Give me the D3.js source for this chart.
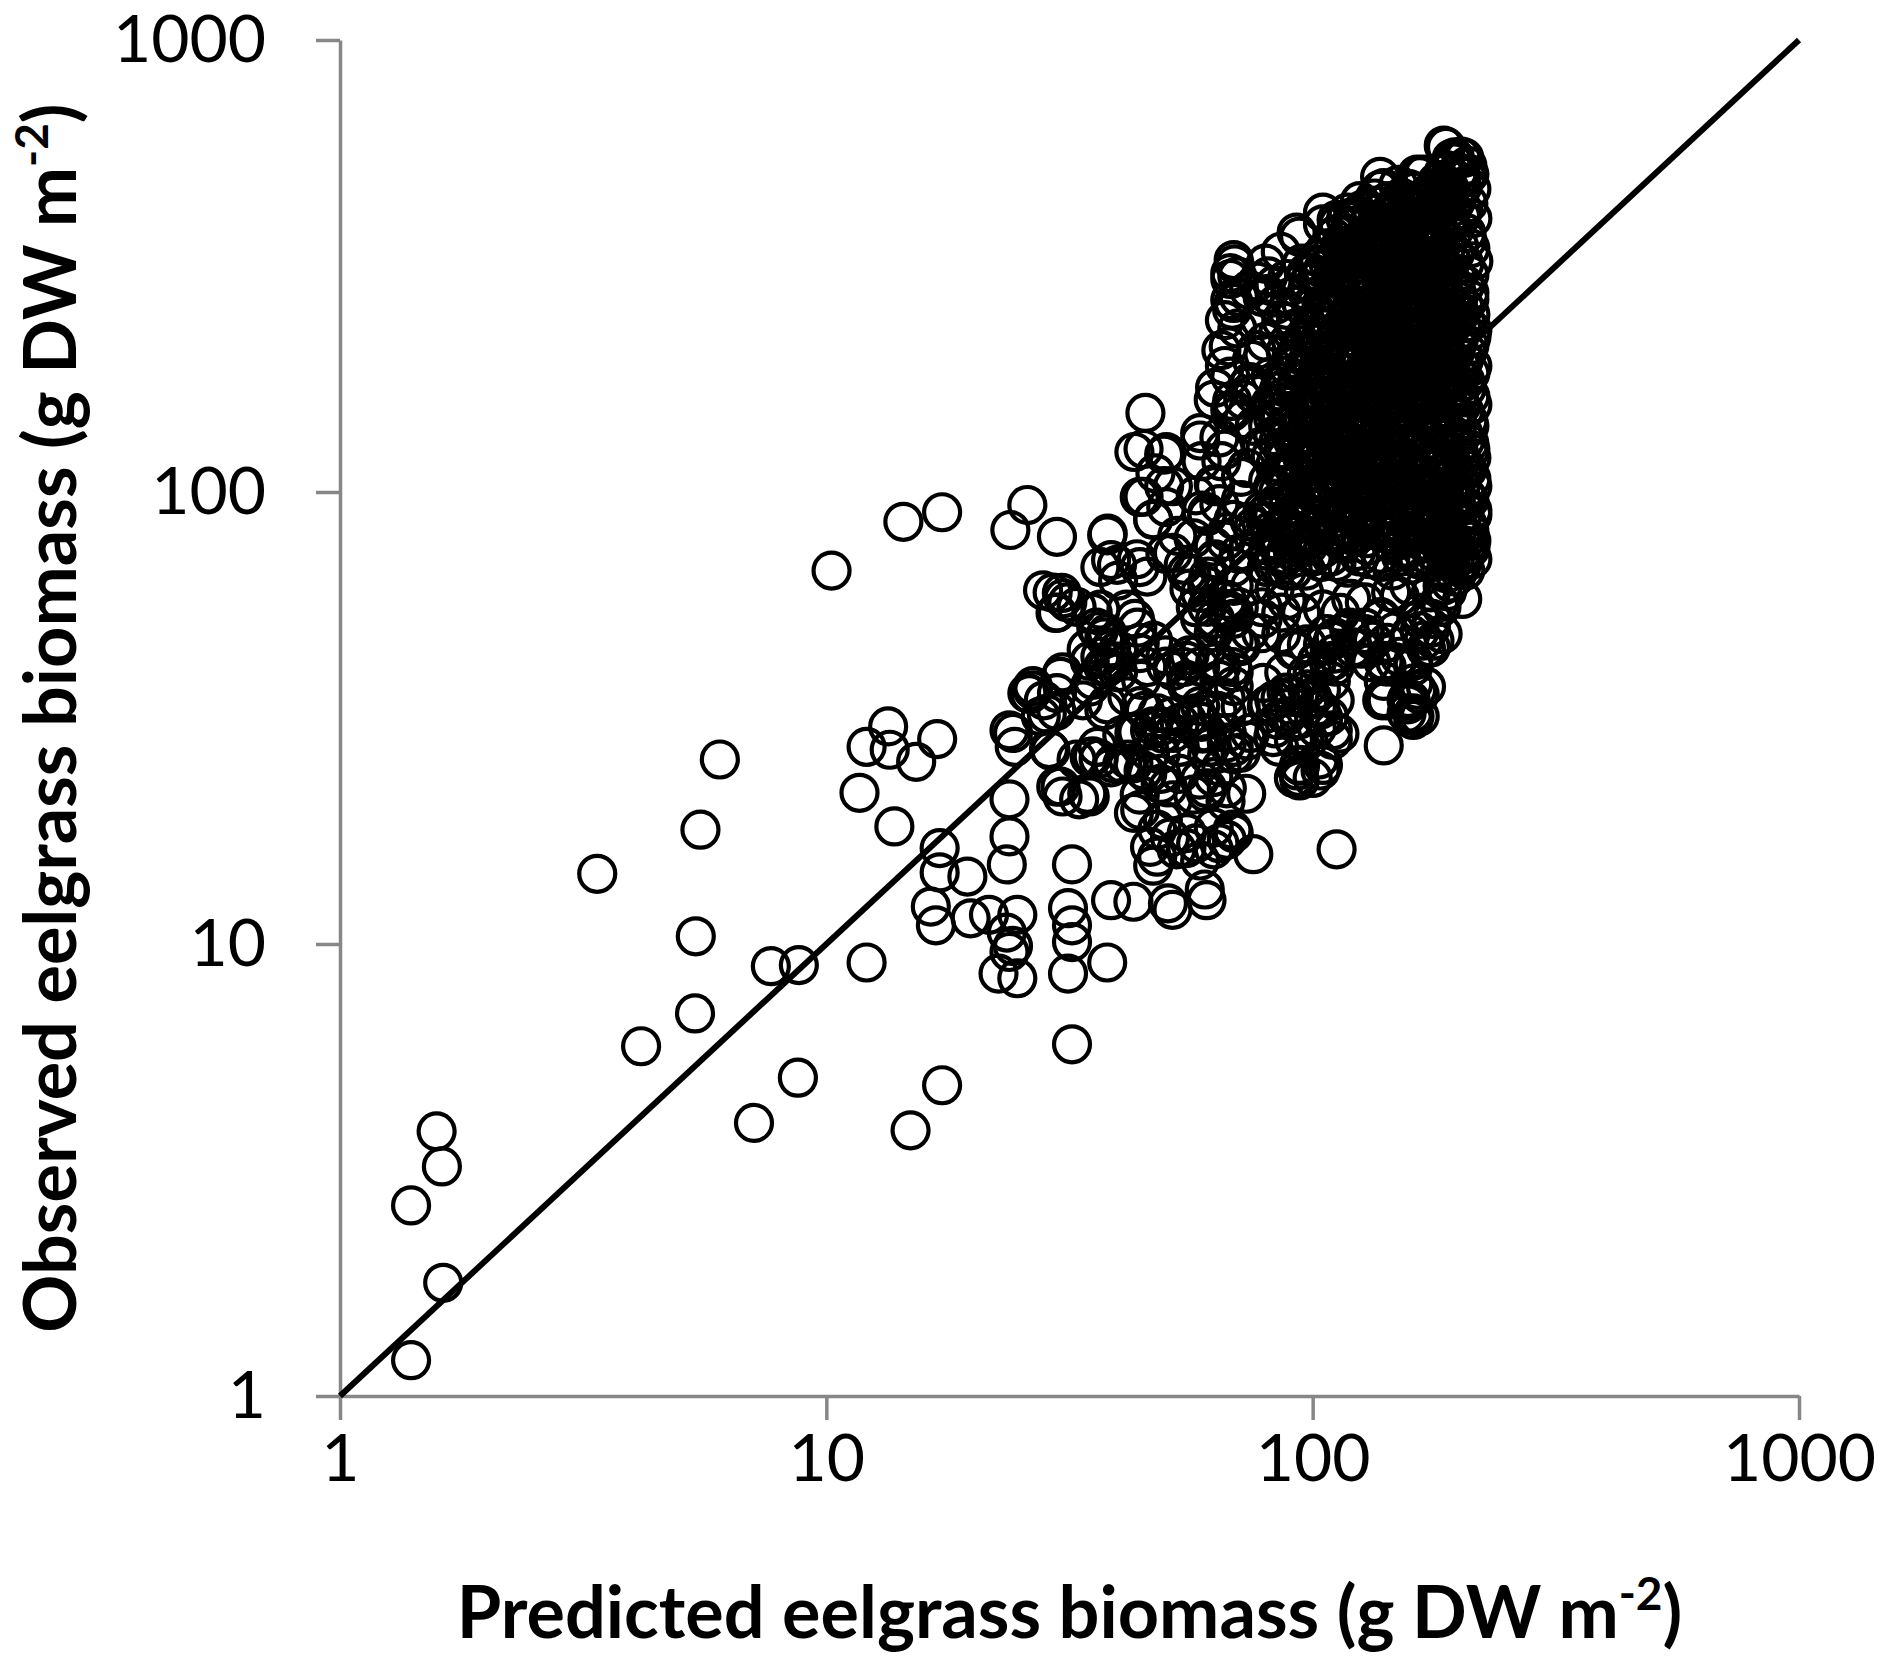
<!DOCTYPE html>
<html>
<head>
<meta charset="utf-8">
<script src="https://cdn.jsdelivr.net/npm/d3@7"></script>
<style>
    html, body { margin: 0; padding: 0; background: #fff; }
    #chart { width: 1903px; height: 1656px; }
</style>
</head>
<body>
<div id="chart"></div>
<script>
//Ejes (log) y textos
const xTicks = [1, 10, 100, 1000];
const yTicks = [1, 10, 100, 1000];
const xTitle = 'Predicted eelgrass biomass (g DW m';
const yTitle = 'Observed eelgrass biomass (g DW m';
const unitSup = '-2';
const oneToOne = [[1, 1], [1000, 1000]];

//Zona baja (predicho < 30)
const lowPts = [
    [1.40,1.20],[1.63,1.78],[1.40,2.64],[1.62,3.22],[1.58,3.85],
    [3.38,14.3],[4.16,5.94],[5.51,17.9],[6.04,25.6],[5.39,10.4],[5.37,7.02],
    [7.69,8.93],[8.78,8.98],[8.74,5.06],[7.10,4.02],[10.25,67],[12.1,9.1],
    [14.9,3.87],[17.3,4.87],[14.4,85.9],[17.3,90.2],
    [11.7,21.6],[12.1,27.3],[13.4,30.3],[13.5,26.9],[15.3,25.3],[16.9,28.4],[13.8,18.2],
    [17.1,16.3],[17.1,14.4],[19.5,14.1],[16.4,12.1],[16.8,11.0],[19.8,11.4],[21.6,11.6],[24.7,11.6],
    [23.5,10.6],[24.2,9.9],[23.8,9.6],[24.7,8.4],[22.6,8.6],[23.5,15.0],[23.8,17.3],[23.8,20.9],
    [23.8,29.7],[24.4,27.3],[23.9,82.4],[25.9,93.6],[29.8,79.6],[30.7,58.2],[29.6,54.0],
    [26.2,35.7],[27.6,31.9],[29.7,32.8],[28.7,27.0],[28.9,26.8],[28.0,34.6],[25.9,35.9],[29.8,35.9],
    [26.6,36.4],[30.3,39.0],[24.2,29.3],[26.6,37.2],[28.4,32.3],[30.6,39.9],
    [29.2,59.9],[31.3,57.0],[27.9,60.6],[32.7,55.7]
];

//Zona media (predicho 30-90)
const midPts = [
    [30.6,21.2],[33.1,20.9],[34.8,21.2],[29.7,22.3],[34.8,25.9],[36.1,27.3],[38.9,25.1],[42.8,25.1],
    [44.9,24.2],[46.3,26.5],[43.6,29.4],[48.7,30.3],[44.2,33.6],[47.9,32.4],[41.6,35.3],[37.3,32.9],
    [33.7,34.6],[34.8,37.1],
    [32.0,15.0],[31.4,12.0],[32.0,11.0],[32.0,10.1],[31.4,8.6],[37.8,9.1],[32.0,6.0],
    [38.5,12.5],[42.8,12.4],[50.4,12.3],[51.5,11.9],[60.5,12.5],[60.0,13.2],
    [47.9,17.9],[46.3,16.4],[47.9,15.6],[47.0,14.9],[44.2,19.8],[49.2,18.8],[42.9,19.5],[50.9,17.2],
    [55.0,16.3],[57.6,16.7],[58.7,15.3],[52.5,16.2],[55.1,17.6],[62.6,18.1],[66.6,17.0],[68.4,17.9],
    [75.5,15.8],[64.3,16.7],[62.6,16.2],[68.8,17.6],[112,16.2],
    [73.0,21.5],[60.3,21.6],[58.6,23.1],[62.5,23.4],[50.4,22.2],[48.8,23.8],[40.6,25.0],[35.3,26.0],
    [66.2,20.7],[44.1,21.4],[48.7,22.6],[51.6,20.8],[56.8,21.4],[60.7,22.1],[66.6,22.1],[53.3,23.8],
    [60.7,26.3],[68.8,26.3],[64.9,24.6],
    [46.3,29.7],[49.2,29.2],[53.3,30.8],[57.6,32.4],[59.4,29.2],[61.6,27.3],[66.6,27.9],[71.1,26.5],
    [73.4,28.2],[66.6,32.4],[71.1,33.5],[43.0,29.3],[47.0,30.3],[51.6,29.3],[55.1,31.3],[58.7,29.3],
    [74.4,29.3],[68.8,27.3],[60.7,29.3],
    [32.7,25.6],[30.3,22.3],[34.4,21.5],[38.5,24.6],[41.7,25.6],[45.7,23.8],[48.7,26.3],
    [36.3,25.7],[53.3,27.3],[51.2,31.9],[45.2,32.8],[40.6,29.0],[37.8,33.9],
    [39.1,42.2],[37.8,41.0],[37.3,47.7],[38.5,44.9],[36.3,49.2],[35.3,54.0],[34.3,44.9],[35.3,38.4],
    [43.1,52.4],[45.7,65.0],[43.5,71.0],[37.8,80.2],[39.6,69.0],[44.9,124.5],[45.3,149.6],[49.5,103],
    [49.5,121],[47.5,110],[44.9,97.6],[47.0,87.0],[52.7,80.0],[43.0,122.6],[50.0,122.6],[37.9,80.9],
    [58.7,130],
    [44.1,97.5],[51.6,103],[47.0,86.8],[50.0,92.6],[38.5,70.7],[44.1,68.2],[39.8,63.7],[36.6,68.2],
    [30.5,59.8],[29.8,54.1],[36.6,54.9],[36.6,43.2],[37.8,48.7],[39.8,44.7],[44.1,46.4],
    [44.4,38.4],[45.7,41.0],[49.8,43.5],[54.3,41.0],[55.0,38.4],[55.8,43.5],[63.0,42.0],[64.3,38.4],
    [66.2,35.0],[68.3,41.0],[70.5,46.0],[74.3,49.2],[78.9,52.4],[63.7,32.8],[59.1,31.0],
    [51.6,73.3],[55.1,66.3],[62.6,75.7],[68.8,68.2],[60.7,62.0],[66.6,57.7],[74.4,62.0],[80.5,68.2],
    [83.0,77.9],[68.8,54.1],[63.6,50.5],[71.2,45.6],[78.4,48.7],[86.2,54.1],[58.7,41.1],[68.8,39.9],
    [55.1,38.2],[50.0,41.1],
    [62.6,160],[68.8,152],[75.5,165],[83.0,145],[64.9,117],[71.2,108],[78.4,126],[88.5,108],
    [60.7,90],[68.8,86.8],[80.5,90],[88.5,84],[91.1,73.6],[75.5,79.6],
    [35.9,50.1],[38.5,45.3],[34.8,42.3],[37.1,41.1],[39.8,39.9],[44.1,44.0],[47.0,46.9],[41.4,54.9],
    [43.6,50.1],
    [51.6,40.2],[55.1,37.4],[55.1,42.3],[63.6,42.3],[68.8,47.2],[62.6,48.9],[58.7,52.4],[66.6,55.1],
    [68.8,52.4],[58.7,33.6],[66.6,29.3],
    [64.9,41.1],[58.7,44.0],[66.6,54.1],[60.7,55.7],[68.8,37.2],[56.3,37.2],
    [58.7,135],[67.7,152],[65.9,124],[62.6,104],[57.5,98.3],[73.2,113],[71.2,96],[60.7,88.5],
    [66.6,81.5],[56.9,79.0],[75.5,83.7],[62.6,70.2],[56.3,65.8],[73.2,73.6],[68.8,62.0],[58.7,59.8],
    [55.8,61.1],[61,65],[63,71],[66.2,78],[70.5,73],[74.3,86],[78.9,91],[81.1,76],[57.5,55.6],
    [63,52.4],[70.5,55.6],[64.3,94],[59.1,91],[63,103],[59.1,117],[64.3,132],[68.3,159],[72,145],
    [49.8,73],[54.3,69],[88.4,67],[83.5,61],[78.9,55.6],[88.4,57.6],[94.7,54],[91,67]
];

//Zona baja derecha (predicho 80-200, observado < 70)
const rightLowPts = [
    [81.1,33.9],[85.9,35],[83.5,30],[88.4,31.9],[91,31],[93.8,24.9],[93.8,23.4],[105,24.9],[102,30],
    [108,31.9],[100,35],[97.3,39.6],[102,42],[105,46],[111,47.7],[108,42],[97.3,46],[88.4,36],
    [119,49.2],[114,54],[128,57],[138,52.4],[140,42],[148,42],[140,35],[140,27.5],[157,33.9],
    [162,31.9],[157,35],[166,54],[166,49.2],[176,52.4],[171,45],[182,57],[192,71],[192,63],
    [148,49.2],[132,42],[126,45],[166,31.9],
    [94.0,23.0],[93.0,24.2],[103.8,24.2],[85.3,27.3],[83.0,28.7],[110,29.7],[113.5,29.2],[105.1,31.7],
    [89.9,35.3],[97.5,36.6],[103.8,33.0],[94.0,31.4],[139,34.6],[156,34.6],[161,31.3],[166,35.7],
    [156,32.4],
    [159,34.6],[161,32.4],[142,34.6],[171,37.1],[164,36.5],[140,38.2],[140,42.3],[151,43.2],
    [161,41.1],[169,46.9],[159,48.5],[175,50.1],[185,48.5],[175,45.3],[142,46.4],
    [119,50.1],[128,50.1],[133,46.9],[121,45.3],[111,43.9],[110,46.9],[102,42.3],[111,41.1],
    [109,38.2],[104,36.5],[111,34.6],[102,33.5],[91.5,35.2],
    [87.4,39.9],[91.5,44.7],[83.4,34.6],[91.5,31.3],[85.0,31.3],[91.5,28.3],[98.0,28.3],[103,25.6],
    [94.2,24.8],[91.5,23.3],[100,23.3],[110,28.3],
    [161,37.7],[142,41.1],[161,42.3],[178,46.9],[166,52.4],[184,55.7],[189,60.3],[151,58.7],
    [138,52.9],[128,48.5],
    [107,48.5],[110,42.3],[100,39.9],[98,34.6],[92.7,44.7],[86.2,48.5],[79.2,37.8],[80.5,33.6],
    [207,78.5],[210,96],[204,113],[210,128],[195,74.4],[202,68.3],[189,66],[185,62],[197,65],
    [203,58],[175,60],[158,62],[145,60],[120,58],[105,55],[96,60]
];

//Nucleo denso (predicho 80-215, observado 68-290)
const corePts = [
    [83,69],[97,67],[104,70],[118,68],[131,71],[146,67],[159,69],[171,70],[183,68],[196,71],[206,67],
    [81,74],[88,72],[94,75],[101,73],[109,72],[123,74],[138,73],[152,75],[164,72],[176,74],[189,73],[201,72],[211,75],
    [84,78],[90,80],[99,79],[107,81],[114,78],[121,80],[129,79],[142,81],[149,78],[161,80],[170,78],[181,80],[193,79],[204,81],[212,78],
    [80,86],[86,84],[93,86],[102,85],[110,87],[117,84],[126,86],[134,85],[144,84],[153,87],[165,85],[174,86],[186,84],[198,86],[208,85],
    [82,92],[89,93],[96,91],[104,93],[113,92],[120,94],[130,91],[139,93],[148,92],[158,94],[168,91],[179,93],[191,92],[203,94],[213,91],
    [85,100],[92,98],[99,100],[107,99],[115,101],[124,98],[133,100],[142,99],[152,101],[162,98],[173,100],[184,99],[196,101],[207,98],
    [81,106],[88,108],[95,107],[103,106],[110,108],[119,107],[127,106],[137,108],[146,107],[156,106],[166,108],[177,107],[189,106],[200,108],[212,107],
    [84,116],[91,114],[98,116],[106,115],[114,114],[122,116],[131,115],[140,114],[150,116],[160,115],[171,114],[182,116],[194,115],[206,114],
    [80,125],[87,123],[94,124],[101,126],[109,123],[117,125],[126,124],[135,126],[144,123],[154,125],[164,124],[175,126],[187,123],[199,125],[211,124],
    [83,133],[90,135],[97,134],[105,133],[113,135],[121,134],[129,133],[139,135],[148,134],[158,133],[169,135],[180,134],[192,133],[204,135],
    [86,146],[93,144],[100,145],[108,146],[116,144],[124,145],[133,146],[142,144],[152,145],[163,146],[173,144],[185,145],[197,146],[209,144],
    [82,157],[89,155],[96,156],[104,157],[111,155],[119,156],[128,157],[137,155],[146,156],[156,157],[167,155],[178,156],[190,157],[202,155],[213,156],
    [85,167],[92,169],[99,168],[107,167],[115,169],[123,168],[132,167],[141,169],[151,168],[161,167],[172,169],[183,168],[195,167],[207,169],
    [88,181],[95,183],[102,182],[110,181],[118,183],[126,182],[135,181],[145,183],[155,182],[165,181],[176,183],[188,182],[200,181],[211,183],
    [91,197],[98,195],[106,196],[114,197],[122,195],[131,196],[140,197],[149,195],[159,196],[170,197],[181,195],[193,196],[205,197],
    [95,211],[102,213],[109,212],[117,211],[126,213],[135,212],[144,211],[154,213],[164,212],[175,211],[186,213],[198,212],[210,211],
    [98,228],[106,230],[113,229],[121,228],[130,230],[139,229],[148,228],[158,230],[169,229],[180,228],[192,230],[203,229],[213,228],
    [103,246],[111,248],[119,247],[128,246],[137,248],[147,247],[157,246],[167,248],[178,247],[190,246],[201,248],[211,247],
    [108,265],[117,267],[126,266],[135,265],[144,267],[155,266],[166,265],[177,267],[188,266],[199,265],[210,267],
    [113,286],[124,288],[133,287],[145,286],[156,288],[170,287],[183,286],[195,288],[206,287]
];

//Nucleo denso, puntos intermedios
const corePts2 = [
    [87,71],[100,72],[112,70],[125,72],[138,70],[152,72],[165,71],[177,70],[190,72],[202,70],[213,71],
    [85,76],[92,77],[98,76],[105,75],[116,77],[130,76],[145,77],[158,75],[170,77],[183,76],[195,77],[207,75],
    [82,82],[87,83],[95,81],[103,83],[111,82],[118,83],[125,81],[136,82],[146,83],[155,81],[166,83],[176,82],[187,81],[199,83],[210,82],
    [83,89],[90,88],[97,89],[106,88],[113,90],[122,88],[130,89],[139,88],[149,90],[159,88],[170,89],[181,88],[192,90],[203,88],[213,89],
    [85,95],[92,96],[100,95],[108,96],[116,95],[125,97],[134,95],[143,96],[153,95],[163,97],[173,95],[185,96],[197,95],[208,97],
    [83,103],[89,104],[96,103],[103,102],[111,104],[120,103],[129,102],[138,104],[147,103],[157,102],[168,104],[179,103],[191,102],[202,104],[213,103],
    [86,111],[92,112],[100,110],[107,111],[115,112],[124,110],[133,111],[142,112],[152,110],[162,111],[173,112],[184,110],[196,111],[208,112],
    [82,120],[88,119],[95,120],[102,118],[110,120],[118,119],[127,118],[136,120],[145,119],[155,118],[166,120],[177,119],[188,118],[201,120],[212,119],
    [85,129],[91,130],[98,128],[106,129],[114,130],[122,128],[131,129],[141,130],[150,128],[160,129],[171,130],[182,128],[194,129],[206,130],
    [81,140],[88,139],[94,140],[101,138],[109,139],[117,140],[125,138],[134,139],[144,140],[153,138],[164,139],[175,140],[186,138],[198,139],[210,140],
    [84,150],[90,151],[97,150],[104,149],[112,151],[120,150],[129,149],[138,151],[148,150],[158,149],[169,151],[181,150],[193,149],[205,151],
    [87,162],[94,163],[101,161],[108,162],[116,163],[125,161],[134,162],[144,163],[154,161],[164,162],[175,163],[187,161],[199,162],[211,163],
    [86,175],[93,176],[100,174],[107,175],[114,176],[122,174],[131,175],[140,176],[150,174],[160,175],[171,176],[182,174],[194,175],[206,176],
    [89,189],[96,190],[104,188],[111,189],[119,190],[128,188],[137,189],[146,190],[156,188],[167,189],[178,190],[190,188],[202,189],[213,190],
    [93,204],[100,205],[107,203],[115,204],[123,205],[132,203],[141,204],[151,205],[161,203],[172,204],[184,205],[196,203],[208,204],
    [96,220],[104,221],[111,219],[119,220],[127,221],[136,219],[145,220],[155,221],[165,219],[176,220],[188,221],[200,219],[212,220],
    [101,238],[108,239],[116,237],[124,238],[133,239],[142,237],[152,238],[162,239],[173,237],[185,238],[196,239],[207,237],
    [105,256],[113,257],[121,255],[130,256],[140,257],[150,255],[161,256],[172,257],[183,255],[194,256],[205,257],
    [111,276],[120,277],[129,275],[139,276],[150,277],[161,275],[173,276],[186,277],[198,275],[210,276]
];

//Columna derecha (predicho ~170-215, observado alto)
const columnPts = [
    [186,301],[198,298],[210,303],[181,322],[193,325],[205,320],[214,324],
    [188,347],[200,350],[211,346],[183,375],[195,378],[207,374],
    [190,404],[202,407],[213,403],[185,436],[197,439],[209,435],
    [191,470],[203,473],[212,468],[187,507],[199,510],[210,505],[193,546],[205,549],
    [184,312],[196,336],[208,361],[192,390],[204,420],[187,452],[199,488],[208,527],[183,490],[178,470],
    [170,300],[174,330],[168,360],[178,350],[176,410],[171,440]
];

//Parte alta (observado > 150, menos densa)
const upperPts = [
    [188,580],[202,552],[195,536],[169,504],[186,509],[207,498],[189,473],[137.6,498],[137.6,466],
    [105,415],[112,400],[121,406],[128,421],[92.7,375],[142,437],[149,380],[137.6,385],[128,368],
    [68.8,326],[67.7,305],[68.8,262],[77,292],[80.5,274],[88.5,296],[97.2,306],[105,311],[118,326],
    [125,339],[137.6,305],[64.9,206],[67.7,180],[73.2,171],[79.2,202],[86.2,240],[89.9,270],
    [100.3,257],[111,275],[121,257],[128,240],[146,257],[161,275],[157,249],[142,225],
    [67.2,210],[69.1,319],[70.5,270],[68.3,253],[74.3,175],[76.6,206],[78.9,270],[83.5,287],
    [88.4,253],[81,300],[93.8,367],[105,391],[117,400],[132,400],[144,405],[166,500],[186,584],
    [196,550],[180,485],[189,515],[202,500],[196,444],[192,400],[102,296],[97.3,278],[124,296],
    [140,355],[153,345],[166,325],[148,306],[132,262],[157,270],[164,504],[67.7,296],[67.7,266],
    [110,300],[118,310],[126,296],[134,318],[141,300],[150,312],[158,296],[166,320],[174,305],
    [120,330],[130,345],[140,332],[152,350],[162,338],[172,355],[145,372],[158,365],[170,380],
    [160,400],[175,420],[168,445],[176,395],[115,350],[103,330],[95,320],[150,420],[162,462],
    [66,190],[70,230],[72,160],[75,196],[78,240],[80,215],[82,180],[85,225],[88,205],[92,230],
    [95,260],[84,260],[90,285],[98,290],[74,280],[70,300],[80,320],[86,340],[66,240],[63,170],
    [68,150],[76,140],[82,155],[88,170],[92,190],
    [108,318],[116,336],[124,356],[132,378],[146,392],[154,412],[112,372],[122,388],[135,430],
    [128,318],[137,346],[146,330],[156,318],[165,352],[172,392],[180,430],[178,310],[100,305],[107,345]
];

//Parte alta densa (predicho 100-180, observado 300-480)
const upperDensePts = [
    [104,300],[112,306],[120,302],[129,308],[138,298],[147,305],[156,300],[165,308],[175,298],
    [102,318],[110,325],[118,320],[127,328],[136,322],[145,326],[154,320],[163,330],[173,322],
    [106,342],[114,350],[123,345],[132,352],[141,340],[150,348],[159,342],[168,352],[178,345],
    [110,366],[118,372],[127,364],[136,370],[146,364],[155,372],[164,366],[174,374],
    [113,392],[121,398],[130,390],[139,396],[148,388],[157,396],[166,390],[176,398],
    [118,415],[127,422],[136,414],[145,420],[154,412],[163,420],[172,414],
    [125,440],[134,446],[143,440],[152,448],[161,440],[170,450],
    [140,470],[150,478],[158,468],[175,462]
];

const allPts = lowPts.concat(midPts, rightLowPts, corePts, corePts2, columnPts, upperPts, upperDensePts);

///Valores iniciales de altura, anchura y márgenes
let margin = {top: 40, right: 104, bottom: 260, left: 340},
    width = 1903 - margin.left - margin.right,
    height = 1656 - margin.top - margin.bottom;

let root = d3.select('#chart')
    .append('svg')
        .attr('width', width + margin.left + margin.right)
        .attr('height', height + margin.top + margin.bottom)
        .style('font-family', 'Lato, "Open Sans", sans-serif');

let svg = root.append('g')
    .attr('transform', 'translate(' + margin.left + ',' + margin.top + ')');

let x = d3.scaleLog()
    .domain([1, 1000])
    .range([0, width]);

let y = d3.scaleLog()
    .domain([1, 1000])
    .range([height, 0]);

const AXIS_COLOR = '#878787';

//Eje X
let xAxis = svg.append('g')
    .attr('transform', 'translate(0,' + height + ')')
    .call(d3.axisBottom(x).tickValues(xTicks).tickFormat(d3.format('d'))
        .tickSize(24).tickSizeOuter(0).tickPadding(14));

//Eje Y
let yAxis = svg.append('g')
    .call(d3.axisLeft(y).tickValues(yTicks).tickFormat(d3.format('d'))
        .tickSize(24).tickSizeOuter(0).tickPadding(50));

[xAxis, yAxis].forEach(function(a) {
    a.select('.domain').attr('stroke', AXIS_COLOR).attr('stroke-width', 3.5);
    a.selectAll('.tick line').attr('stroke', AXIS_COLOR).attr('stroke-width', 3.5);
    a.selectAll('.tick text')
        .attr('fill', '#000')
        .style('font-family', 'Lato, "Open Sans", sans-serif')
        .style('font-size', '66px');
});

//Puntos
svg.append('g')
    .selectAll('circle')
    .data(allPts)
    .enter()
    .append('circle')
    .attr('cx', function(d) { return x(d[0]); })
    .attr('cy', function(d) { return y(d[1]); })
    .attr('r', 18)
    .attr('fill', 'none')
    .attr('stroke', '#000')
    .attr('stroke-width', 4.2);

//Linea 1:1
svg.append('path')
    .datum(oneToOne)
    .attr('fill', 'none')
    .attr('stroke', '#000')
    .attr('stroke-width', 6)
    .attr('d', d3.line().x(function(d) { return x(d[0]); }).y(function(d) { return y(d[1]); }));

//Titulos de ejes
function addTitle(sel, main) {
    sel.append('tspan').text(main);
    sel.append('tspan').attr('dy', -28).style('font-size', '46px').text(unitSup);
    sel.append('tspan').attr('dy', 28).text(')');
}

let xt = root.append('text')
    .attr('x', margin.left + width / 2)
    .attr('y', 1638)
    .attr('text-anchor', 'middle')
    .style('font-weight', 'bold')
    .style('font-size', '72px');
addTitle(xt, xTitle);

let yt = root.append('text')
    .attr('transform', 'translate(76,' + (margin.top + height / 2) + ') rotate(-90)')
    .attr('text-anchor', 'middle')
    .style('font-weight', 'bold')
    .style('font-size', '72px');
addTitle(yt, yTitle);
</script>
</body>
</html>
